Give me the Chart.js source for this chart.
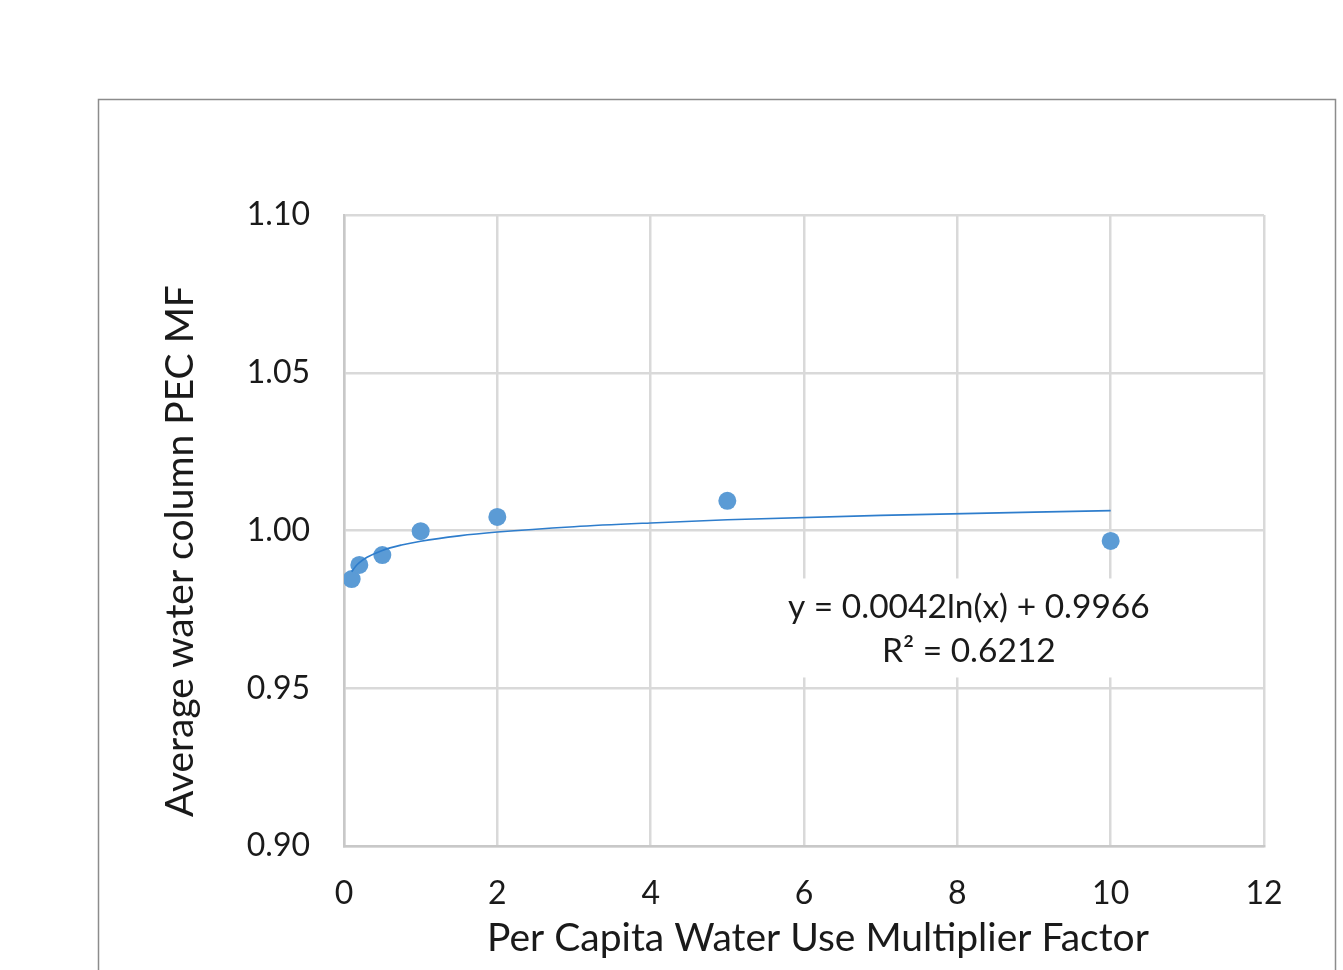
<!DOCTYPE html>
<html>
<head>
<meta charset="utf-8">
<script src="https://cdn.jsdelivr.net/npm/chart.js@4.4.1/dist/chart.umd.min.js"></script>
<style>
  html, body { margin: 0; padding: 0; background: #ffffff; overflow: hidden; }
  #pecChart { display: block; }
</style>
</head>
<body>
<canvas id="pecChart" width="1343" height="970"></canvas>
<script>
// Observed points
const multiplierX = [0.1, 0.2, 0.5, 1, 2, 5, 10];
const pecMF = [0.9846, 0.9891, 0.9922, 0.9998, 1.0043, 1.0094, 0.9967];

// Log trendline y = 0.0042ln(x) + 0.9966, values read at these x
const trendX = [0.1, 0.15, 0.2, 0.3, 0.5, 0.75, 1, 1.5, 2, 3, 4, 5, 7, 10];
const trendY = [0.9869, 0.9886, 0.9898, 0.9915, 0.9937, 0.9954, 0.9966, 0.9983, 0.9995, 1.0012, 1.0024, 1.0034, 1.0048, 1.0063];

const xTicks = [0, 2, 4, 6, 8, 10, 12];
const yTicks = [0.90, 0.95, 1.00, 1.05, 1.10];

const xTitle = 'Per Capita Water Use Multiplier Factor';
const yTitle = 'Average water column PEC MF';
const equationText = 'y = 0.0042ln(x) + 0.9966';
const r2Text = 'R² = 0.6212';

const FONT = 'Lato, "Open Sans", sans-serif';
const TEXT = '#1a1a1a';

// outer frame of the chart object
const framePlugin = {
    id: 'frame',
    beforeDraw(chart) {
        const c = chart.ctx;
        c.save();
        c.fillStyle = '#ffffff';
        c.fillRect(0, 0, chart.width, chart.height);
        c.strokeStyle = '#8c8c8c';
        c.lineWidth = 1.5;
        c.beginPath();
        c.moveTo(98.5, 975);
        c.lineTo(98.5, 99.5);
        c.lineTo(1335.5, 99.5);
        c.lineTo(1335.5, 975);
        c.stroke();
        c.restore();
    }
};

// axis titles placed like the original (slightly off the plot centre)
const titlePlugin = {
    id: 'axisTitles',
    afterDraw(chart) {
        const c = chart.ctx;
        c.save();
        c.fillStyle = TEXT;
        c.font = '39px ' + FONT;
        c.textAlign = 'center';
        c.textBaseline = 'middle';
        c.fillText(xTitle, 818, 938);
        c.translate(180, 551);
        c.rotate(-Math.PI / 2);
        c.fillText(yTitle, 0, 0);
        c.restore();
    }
};

// trendline label box with white background
const labelPlugin = {
    id: 'trendLabel',
    afterDatasetsDraw(chart) {
        const c = chart.ctx;
        const xs = chart.scales.x, ys = chart.scales.y;
        const cx = xs.getPixelForValue(8.15);
        const y1 = ys.getPixelForValue(0.9756);
        const y2 = ys.getPixelForValue(0.9616);
        c.save();
        c.fillStyle = '#ffffff';
        c.fillRect(cx - 188, y1 - 29, 378, 99);
        c.fillStyle = TEXT;
        c.font = '33.5px ' + FONT;
        c.textAlign = 'center';
        c.textBaseline = 'middle';
        c.fillText(equationText, cx, y1);
        c.fillText(r2Text, cx, y2);
        c.restore();
    }
};

const ctx = document.getElementById('pecChart');
new Chart(ctx, {
    type: 'scatter',
    data: {
        datasets: [{
            label: 'Trend',
            data: trendX.map((x, i) => ({ x: x, y: trendY[i] })),
            showLine: true,
            borderColor: '#2e7dcc',
            borderWidth: 1.6,
            pointRadius: 0,
            tension: 0.4,
            cubicInterpolationMode: 'monotone',
            order: 1
        }, {
            label: 'PEC MF',
            data: multiplierX.map((x, i) => ({ x: x, y: pecMF[i] })),
            backgroundColor: '#5b9bd5',
            borderColor: '#5b9bd5',
            borderWidth: 0,
            pointRadius: 9,
            order: 2
        }]
    },
    plugins: [framePlugin, labelPlugin, titlePlugin],
    options: {
        responsive: false,
        animation: false,
        devicePixelRatio: 1,
        layout: {
            padding: { top: 215, right: 79, bottom: 0, left: 0 }
        },
        plugins: {
            legend: { display: false },
            tooltip: { enabled: false }
        },
        scales: {
            x: {
                type: 'linear',
                min: 0,
                max: 12,
                afterBuildTicks(scale) {
                    scale.ticks = xTicks.map(v => ({ value: v }));
                },
                afterFit(scale) { scale.height = 124; },
                grid: {
                    color: '#d9d9d9',
                    lineWidth: 2.5,
                    drawTicks: false
                },
                border: { color: '#c8c8c8', width: 2.5 },
                ticks: {
                    color: TEXT,
                    font: { family: FONT, size: 32 },
                    padding: 28,
                    maxRotation: 0,
                    callback: v => String(v)
                }
            },
            y: {
                type: 'linear',
                min: 0.90,
                max: 1.10,
                afterBuildTicks(scale) {
                    scale.ticks = yTicks.map(v => ({ value: v }));
                },
                afterFit(scale) { scale.width = 344; },
                grid: {
                    color: '#d9d9d9',
                    lineWidth: 2.5,
                    drawTicks: false
                },
                border: { color: '#c8c8c8', width: 2.5 },
                ticks: {
                    color: TEXT,
                    font: { family: FONT, size: 32 },
                    padding: 34,
                    callback: v => v.toFixed(2)
                }
            }
        }
    }
});
</script>
</body>
</html>
